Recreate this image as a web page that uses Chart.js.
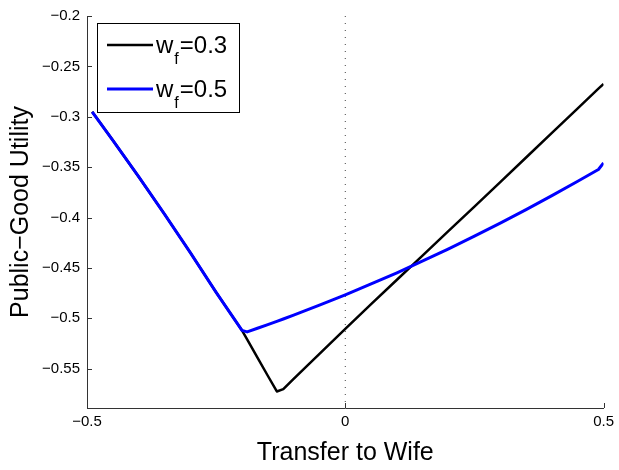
<!DOCTYPE html>
<html>
<head>
<meta charset="utf-8">
<script src="https://cdn.jsdelivr.net/npm/chart.js@4/dist/chart.umd.min.js"></script>
<style>
  html, body { margin: 0; padding: 0; background: #fff; }
  #wrap { width: 619px; height: 470px; }
</style>
</head>
<body>
<div id="wrap"><canvas id="c" width="619" height="470"></canvas></div>
<script>
// Transfer to the wife (shared grid for both curves)
const transfer = [-0.49, -0.45, -0.4, -0.35, -0.3, -0.25, -0.2, -0.19, -0.17, -0.15, -0.1325, -0.12, -0.1,
  -0.05, 0, 0.05, 0.1, 0.15, 0.2, 0.25, 0.3, 0.35, 0.4, 0.45, 0.49, 0.5];

// Public-good utility, w_f = 0.3
const utilityWf03 = [-0.2951, -0.3234, -0.3595, -0.3966, -0.4348, -0.4742, -0.5120, -0.5210, -0.5390, -0.5570,
  -0.5726, -0.5703, -0.5600, -0.5352, -0.5105, -0.4860, -0.4617, -0.4375, -0.4133, -0.3891, -0.3648, -0.3404,
  -0.3160, -0.2916, -0.2721, -0.2674];

// Public-good utility, w_f = 0.5
const utilityWf05 = [-0.2951, -0.3234, -0.3595, -0.3966, -0.4348, -0.4742, -0.5120, -0.5135, -0.5099, -0.5063,
  -0.5030, -0.5007, -0.4969, -0.4870, -0.4767, -0.4659, -0.4548, -0.4431, -0.4311, -0.4185, -0.4056, -0.3922,
  -0.3783, -0.3640, -0.3523, -0.3457];

// Legend labels: [base, subscript, rest]
const legendLabels = [['w', 'f', '=0.3'], ['w', 'f', '=0.5']];

// Axis ticks and limits
const xTicks = [-0.5, 0, 0.5];
const yTicks = [-0.2, -0.25, -0.3, -0.35, -0.4, -0.45, -0.5, -0.55];
const xRange = [-0.5, 0.5];
const yRange = [-0.589, -0.2];

// Vertical reference line at zero transfer
const zeroLineX = [0, 0];
const zeroLineY = [yRange[1], yRange[0]];

const FONT = "'Liberation Sans', Arial, Helvetica, sans-serif";
const fmt = v => String(v).replace('-', '\u2212');
const pts = (xs, ys) => xs.map((x, i) => ({ x: x, y: ys[i] }));

// Short inward tick marks on the left and bottom axes
const inwardTicks = {
  id: 'inwardTicks',
  afterDraw(chart) {
    const { ctx, chartArea: a, scales } = chart;
    ctx.save();
    ctx.strokeStyle = '#333';
    ctx.lineWidth = 1;
    ctx.beginPath();
    yTicks.forEach(v => {
      const y = Math.round(scales.y.getPixelForValue(v)) + 0.5;
      ctx.moveTo(a.left, y); ctx.lineTo(a.left + 5, y);
    });
    xTicks.forEach(v => {
      const x = Math.round(scales.x.getPixelForValue(v)) + 0.5;
      ctx.moveTo(x, a.bottom); ctx.lineTo(x, a.bottom - 5);
    });
    ctx.stroke();
    ctx.restore();
  }
};

// Boxed legend with subscripted labels
const subLegend = {
  id: 'subLegend',
  afterDraw(chart) {
    const { ctx, chartArea: a } = chart;
    const bx = a.left + 10, by = a.top + 7, bw = 142, bh = 89;
    ctx.save();
    ctx.fillStyle = '#fff';
    ctx.fillRect(bx, by, bw, bh);
    ctx.strokeStyle = '#000';
    ctx.lineWidth = 1;
    ctx.strokeRect(bx + 0.5, by + 0.5, bw, bh);
    const entries = [chart.data.datasets[1], chart.data.datasets[0]];
    entries.forEach((ds, i) => {
      const ly = by + 22 + i * 44;
      ctx.strokeStyle = ds.borderColor;
      ctx.lineWidth = ds.borderWidth;
      ctx.beginPath();
      ctx.moveTo(bx + 10, ly); ctx.lineTo(bx + 56, ly);
      ctx.stroke();
      const [base, sub, rest] = legendLabels[i];
      let tx = bx + 59;
      ctx.fillStyle = '#000';
      ctx.textBaseline = 'alphabetic';
      ctx.textAlign = 'left';
      ctx.font = '24px ' + FONT;
      ctx.fillText(base, tx, ly + 8);
      tx += ctx.measureText(base).width + 1;
      ctx.font = '16px ' + FONT;
      ctx.fillText(sub, tx, ly + 19);
      tx += ctx.measureText(sub).width + 1;
      ctx.font = '24px ' + FONT;
      ctx.fillText(rest, tx, ly + 8);
    });
    ctx.restore();
  }
};

new Chart(document.getElementById('c'), {
  type: 'line',
  data: {
    datasets: [
      {
        label: 'w_f=0.5',
        data: pts(transfer, utilityWf05),
        borderColor: '#0000ff',
        borderWidth: 3,
        pointRadius: 0,
        tension: 0,
        borderJoinStyle: 'round',
        order: 0
      },
      {
        label: 'w_f=0.3',
        data: pts(transfer, utilityWf03),
        borderColor: '#000000',
        borderWidth: 2.5,
        pointRadius: 0,
        tension: 0,
        borderJoinStyle: 'round',
        order: 1
      },
      {
        label: 'zero',
        data: pts(zeroLineX, zeroLineY),
        borderColor: '#444',
        borderWidth: 1,
        borderDash: [1, 6],
        pointRadius: 0,
        order: 2
      }
    ]
  },
  options: {
    responsive: false,
    animation: false,
    devicePixelRatio: 1,
    layout: { padding: { top: 14, right: 15, left: 0, bottom: 0 } },
    plugins: { legend: { display: false }, tooltip: { enabled: false } },
    scales: {
      x: {
        type: 'linear',
        min: xRange[0], max: xRange[1],
        afterBuildTicks: s => { s.ticks = xTicks.map(v => ({ value: v })); },
        afterFit: s => { s.height = 62; },
        grid: { display: false, drawTicks: false },
        border: { display: true, color: '#333', width: 1 },
        ticks: { color: '#000', padding: 5, maxRotation: 0, font: { family: FONT, size: 15 }, callback: v => fmt(v) },
        title: { display: true, text: 'Transfer to Wife', color: '#000', padding: { top: 0, bottom: 2 },
          font: { family: FONT, size: 25 } }
      },
      y: {
        type: 'linear',
        min: yRange[0], max: yRange[1],
        afterBuildTicks: s => { s.ticks = yTicks.map(v => ({ value: v })); },
        afterFit: s => { s.width = 87; },
        grid: { display: false, drawTicks: false },
        border: { display: true, color: '#333', width: 1 },
        ticks: { color: '#000', padding: 7, font: { family: FONT, size: 15 }, callback: v => fmt(v) },
        title: { display: true, text: 'Public\u2212Good Utility', color: '#000', padding: { top: 6, bottom: 0 },
          font: { family: FONT, size: 25 } }
      }
    }
  },
  plugins: [inwardTicks, subLegend]
});
</script>
</body>
</html>
